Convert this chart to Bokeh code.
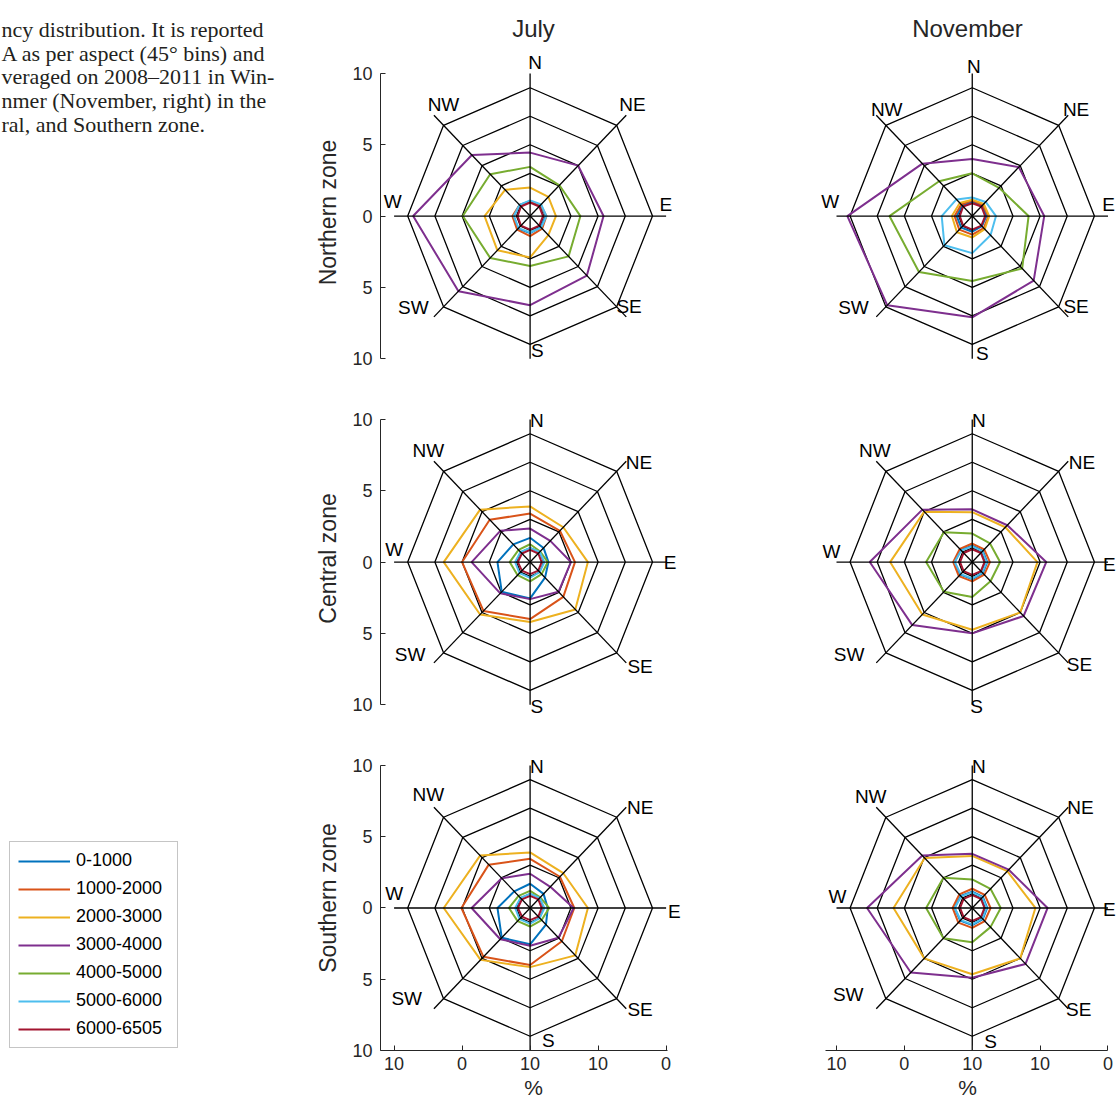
import numpy as np
from bokeh.plotting import figure
from bokeh.models import (ColumnDataSource, LabelSet, Legend, LegendItem, Range1d,
                          FixedTicker)
from bokeh.layouts import row, column
from bokeh.embed import file_html
from bokeh.resources import INLINE
from bokeh.core.properties import value

# ---------------- data ----------------
directions = ["N", "NE", "E", "SE", "S", "SW", "W", "NW"]
direction_angles = [90, 45, 0, -45, -90, -135, 180, 135]
bands = ["0-1000", "1000-2000", "2000-3000", "3000-4000",
         "4000-5000", "5000-6000", "6000-6505"]
band_colors = ["#0072BD", "#D95319", "#EDB120", "#7E2F8E",
               "#77AC30", "#4DBEEE", "#A2142F"]
ring_levels = [1, 3, 5, 7, 9]
spoke_length = 10
months = ["July", "November"]
zones = ["Northern zone", "Central zone", "Southern zone"]
y_ticks = [-10, -5, 0, 5, 10]
y_tick_labels = ["10", "5", "0", "5", "10"]
x_ticks = [-10, -5, 0, 5, 10]
x_tick_labels = ["10", "0", "10", "10", "0"]
x_label = "%"

caption_lines = ["ncy distribution. It is reported",
                 "A as per aspect (45\u00b0 bins) and",
                 "veraged on 2008\u20132011 in Win-",
                 "nmer (November, right) in the",
                 "ral, and Southern zone."]

# values per direction N, NE, E, SE, S, SW, W, NW (one list per elevation band)
july_northern = [
    [1.05, 1.10, 1.15, 1.10, 1.20, 1.25, 1.20, 1.10],
    [1.00, 1.10, 1.20, 1.25, 1.40, 1.35, 1.30, 1.10],
    [2.00, 1.90, 1.90, 1.90, 2.90, 3.40, 3.35, 2.60],
    [4.45, 5.00, 5.40, 5.90, 6.25, 7.45, 8.60, 6.05],
    [3.45, 3.05, 3.70, 4.00, 3.50, 4.15, 4.95, 4.15],
    [1.10, 1.15, 1.20, 1.15, 1.15, 1.20, 1.20, 1.10],
    [0.95, 0.95, 0.95, 0.95, 0.95, 0.95, 0.92, 0.95],
]
november_northern = [
    [1.00, 1.00, 1.05, 1.00, 1.10, 1.15, 1.15, 1.05],
    [1.10, 1.10, 1.20, 1.20, 1.30, 1.35, 1.30, 1.15],
    [1.15, 1.20, 1.25, 1.30, 1.50, 1.60, 1.50, 1.30],
    [4.00, 4.85, 5.30, 6.40, 7.10, 8.85, 9.20, 5.20],
    [3.00, 2.80, 4.15, 5.20, 4.55, 5.55, 6.10, 3.45],
    [1.30, 1.40, 1.75, 1.90, 2.60, 2.90, 2.25, 1.65],
    [0.90, 0.95, 0.95, 0.95, 0.95, 0.95, 0.92, 0.95],
]
july_central = [
    [1.70, 1.40, 1.35, 1.55, 2.55, 2.95, 2.40, 1.75],
    [3.40, 3.10, 3.30, 3.45, 4.00, 4.85, 5.00, 4.20],
    [3.90, 3.45, 4.25, 4.70, 4.20, 5.20, 6.35, 5.20],
    [2.35, 2.10, 3.00, 2.95, 2.60, 3.10, 4.30, 3.10],
    [1.25, 1.05, 1.30, 1.20, 1.35, 1.30, 1.50, 1.20],
    [1.00, 1.00, 1.05, 1.00, 1.10, 1.10, 1.10, 1.00],
    [0.85, 0.85, 0.85, 0.85, 0.85, 0.85, 0.90, 0.85],
]
november_central = [
    [1.15, 1.10, 1.10, 1.10, 1.20, 1.25, 1.30, 1.20],
    [1.30, 1.25, 1.30, 1.25, 1.35, 1.40, 1.40, 1.30],
    [3.50, 3.45, 4.80, 5.00, 4.75, 5.20, 6.05, 5.00],
    [3.70, 3.65, 5.45, 5.35, 5.00, 6.25, 7.55, 5.20],
    [2.00, 1.85, 2.05, 1.90, 2.45, 2.95, 3.40, 2.95],
    [1.10, 1.05, 1.05, 1.05, 1.15, 1.20, 1.30, 1.15],
    [0.90, 0.90, 0.90, 0.90, 0.90, 0.90, 0.90, 0.90],
]
july_southern = [
    [1.70, 1.40, 1.30, 1.65, 2.55, 2.95, 2.40, 1.65],
    [3.45, 3.10, 3.25, 3.30, 4.00, 4.85, 5.05, 4.30],
    [3.90, 3.45, 4.25, 4.70, 4.15, 5.15, 6.35, 5.20],
    [2.40, 2.10, 3.20, 2.95, 2.65, 3.10, 4.30, 2.95],
    [1.20, 1.05, 1.40, 1.20, 1.30, 1.30, 1.55, 1.20],
    [1.00, 1.00, 1.05, 1.00, 1.10, 1.10, 1.10, 1.00],
    [0.85, 0.85, 0.85, 0.85, 0.85, 0.85, 0.90, 0.85],
]
november_southern = [
    [1.15, 1.10, 1.10, 1.10, 1.20, 1.25, 1.30, 1.20],
    [1.35, 1.30, 1.35, 1.30, 1.40, 1.45, 1.45, 1.35],
    [3.65, 3.65, 4.65, 5.00, 4.65, 5.00, 5.80, 4.95],
    [3.80, 3.80, 5.55, 5.55, 4.90, 6.40, 7.75, 5.20],
    [2.00, 1.90, 2.10, 1.90, 2.40, 3.00, 3.40, 3.00],
    [1.10, 1.05, 1.05, 1.05, 1.15, 1.20, 1.30, 1.15],
    [0.90, 0.90, 0.90, 0.90, 0.90, 0.90, 0.90, 0.90],
]
panel_values = [[july_northern, november_northern],
                [july_central, november_central],
                [july_southern, november_southern]]

# label placement (layout), centres in axis units, order as `directions`
label_xy = {
    (0, 0): ([0.37, 7.52, 9.98, 7.28, 0.54, -8.58, -10.1, -6.37],
             [10.76, 7.84, 0.82, -6.32, -9.43, -6.39, 1.05, 7.84]),
    (0, 1): ([0.12, 7.65, 10.05, 7.65, 0.74, -8.75, -10.47, -6.3],
             [10.5, 7.49, 0.82, -6.32, -9.66, -6.39, 1.05, 7.49]),
    (1, 0): ([0.49, 8.0, 10.3, 8.09, 0.49, -8.82, -10.0, -7.48],
             [9.9, 6.97, -0.05, -7.3, -10.15, -6.48, 0.89, 7.84]),
    (1, 1): ([0.49, 8.09, 10.1, 7.9, 0.32, -9.07, -10.37, -7.18],
             [9.9, 6.97, -0.16, -7.18, -10.15, -6.48, 0.77, 7.84]),
    (2, 0): ([0.49, 8.09, 10.6, 8.09, 1.35, -9.07, -10.0, -7.48],
             [9.9, 7.02, -0.23, -7.13, -9.29, -6.32, 1.05, 7.95]),
    (2, 1): ([0.49, 7.97, 10.1, 7.84, 1.35, -9.14, -9.93, -7.48],
             [9.9, 7.02, -0.12, -7.13, -9.35, -6.08, 0.82, 7.84]),
}

FONT = "Liberation Sans"
INK = "#262626"
ang = np.deg2rad(direction_angles)
cs, sn = np.cos(ang), np.sin(ang)

# layout (pixels)
TOP_BORDERS = [53, 14, 14]
BOTTOM_BORDERS = [14, 14, 54]
FRAME_H = [318, 318, 305]
Y_RANGES = [(-10.9, 11.4), (-10.9, 11.4), (-10.0, 11.4)]
COL_X_RANGE = [(-11.0, 11.5), (-11.4, 10.7)]
COL_FRAME_W = [306, 300]
COL_BORDER_L = [80, 117]
COL_BORDER_R = [14, 0]
COL_XAXIS_BOUNDS = [(-11.0, 10.1), (-10.8, 10.0)]


def closed(r):
    r = np.asarray(r, dtype=float)
    xs, ys = r * cs, r * sn
    return np.append(xs, xs[0]), np.append(ys, ys[0])


def style_axis(ax):
    ax.axis_line_color = INK
    ax.major_tick_line_color = INK
    ax.minor_tick_line_color = None
    ax.major_tick_in = 5
    ax.major_tick_out = 0
    ax.major_label_text_font = FONT
    ax.major_label_text_font_size = "18px"
    ax.major_label_text_color = INK
    ax.axis_label_text_font = FONT
    ax.axis_label_text_font_style = "normal"
    ax.axis_label_text_color = INK


def panel(ri, ci):
    first_col = ci == 0
    last_row = ri == 2
    p = figure(frame_width=COL_FRAME_W[ci], frame_height=FRAME_H[ri],
               x_range=Range1d(*COL_X_RANGE[ci]), y_range=Range1d(*Y_RANGES[ri]),
               min_border_left=COL_BORDER_L[ci], min_border_right=COL_BORDER_R[ci],
               min_border_top=TOP_BORDERS[ri], min_border_bottom=BOTTOM_BORDERS[ri],
               x_axis_location="below" if last_row else None,
               y_axis_location="left" if first_col else None,
               output_backend="svg", toolbar_location=None)
    p.outline_line_color = None
    p.grid.visible = False
    if ri == 0:
        p.title.text = months[ci]
        p.title.align = "center"
        p.title.text_font = FONT
        p.title.text_font_size = "24px"
        p.title.text_font_style = "normal"
        p.title.text_color = INK
        p.title.standoff = 23
    if first_col:
        ax = p.yaxis[0]
        ax.ticker = FixedTicker(ticks=y_ticks)
        ax.major_label_overrides = dict(zip(y_ticks, y_tick_labels))
        ax.bounds = (-10, 10)
        ax.axis_label = zones[ri]
        style_axis(ax)
        ax.axis_label_text_font_size = "23px"
        ax.major_label_standoff = 8
        ax.axis_label_standoff = 8
    if last_row:
        ax = p.xaxis[0]
        ax.ticker = FixedTicker(ticks=x_ticks)
        ax.major_label_overrides = dict(zip(x_ticks, x_tick_labels))
        ax.bounds = COL_XAXIS_BOUNDS[ci]
        ax.axis_label = x_label
        style_axis(ax)
        ax.axis_label_text_font_size = "21px"
        ax.major_label_standoff = 6
        ax.axis_label_standoff = 3

    rx, ry = zip(*[closed([lv] * len(directions)) for lv in ring_levels])
    p.multi_line(xs=[list(a) for a in rx], ys=[list(a) for a in ry],
                 line_color="black", line_width=1.3)
    for color, r in zip(band_colors, panel_values[ri][ci]):
        x, y = closed(r)
        p.line(x, y, line_color=color, line_width=2)
    p.segment(x0=np.zeros(len(directions)), y0=np.zeros(len(directions)),
              x1=spoke_length * cs, y1=spoke_length * sn,
              line_color="black", line_width=1.3)
    lx, ly = label_xy[(ri, ci)]
    src = ColumnDataSource(dict(x=lx, y=ly, text=directions))
    p.add_layout(LabelSet(x="x", y="y", text="text", source=src,
                          text_align="center", text_baseline="middle",
                          text_font=value(FONT), text_font_size="19px",
                          text_color="black"))
    return p


# ---------------- left area: caption + legend ----------------
LEFT_W = 300
TOTAL_H = sum(TOP_BORDERS) + sum(BOTTOM_BORDERS) + sum(FRAME_H)
left = figure(width=LEFT_W, height=TOTAL_H, x_range=Range1d(0, LEFT_W),
              y_range=Range1d(TOTAL_H, 0),
              x_axis_location=None, y_axis_location=None, min_border=0,
              output_backend="svg", toolbar_location=None)
left.outline_line_color = None
left.grid.visible = False
cap = ColumnDataSource(dict(x=[1] * 5, y=[29, 53, 76, 100, 124], text=caption_lines))
left.text(x="x", y="y", text="text", source=cap, text_align="left",
          text_baseline="alphabetic", text_font=value("Liberation Serif"),
          text_font_size="22px", text_color="#231f20")

# legend proxies (no visible data, only legend swatches)
proxies = [left.line(x=[np.nan, np.nan], y=[np.nan, np.nan], line_color=c, line_width=2)
           for c in band_colors]
legend = Legend(items=[LegendItem(label=b, renderers=[r]) for b, r in zip(bands, proxies)],
                location=(9, TOTAL_H - 1048), label_text_font=FONT,
                label_text_font_size="18px", label_text_color="black",
                glyph_width=52, glyph_height=20, label_height=20, label_width=93,
                label_standoff=6, spacing=7, padding=8, margin=0,
                border_line_color="#8c8c8c", border_line_width=1,
                background_fill_color="white")
left.add_layout(legend)

july_col = column([panel(r, 0) for r in range(3)], spacing=0)
nov_col = column([panel(r, 1) for r in range(3)], spacing=0)
layout = row([left, july_col, nov_col], spacing=0)

open("out.html", "w").write(file_html(layout, INLINE))
